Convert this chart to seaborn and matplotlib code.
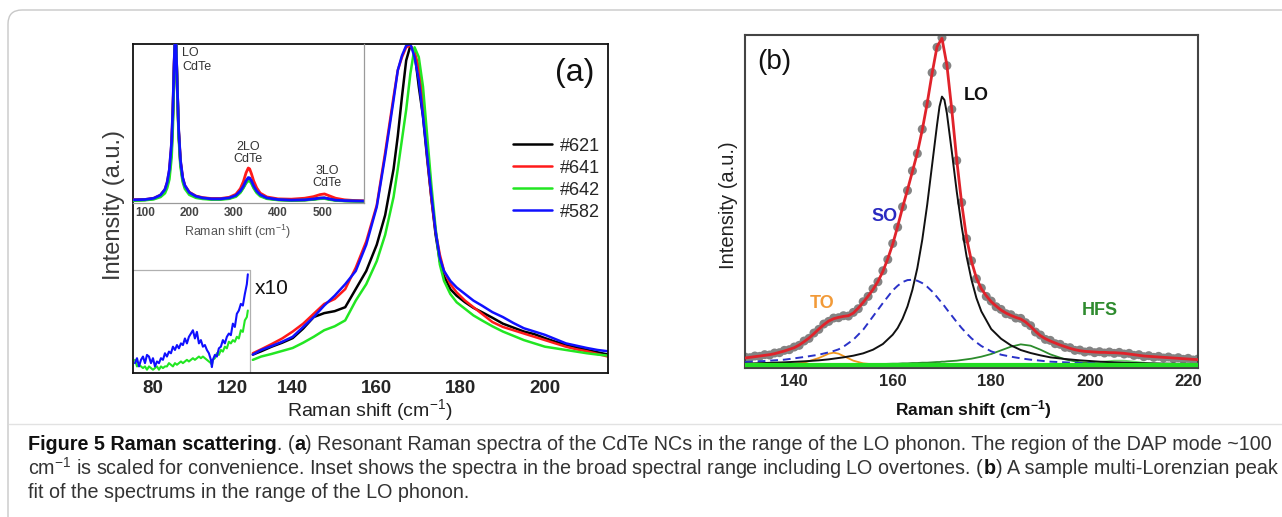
import numpy as np
import matplotlib
matplotlib.use("Agg")
import matplotlib.pyplot as plt
import seaborn as sns
from matplotlib.patches import FancyBboxPatch
from matplotlib.transforms import IdentityTransform
from matplotlib.ticker import FixedLocator, NullLocator

# ---------------- data : panel (a), main spectra ----------------
x_main = [130, 132.5, 135, 137.5, 140, 142.5, 145, 147.5, 150, 152.5, 155, 157.5, 160, 162, 164, 165,
          166, 167, 168, 169, 170, 171, 172, 173, 174, 175, 176, 177.5, 179, 181, 183, 185, 187.5,
          190, 192.5, 195, 197.5, 200, 202.5, 205, 207.5, 210, 212.5, 215]
y_621 = [0.056, 0.066, 0.080, 0.092, 0.106, 0.135, 0.170, 0.182, 0.188, 0.200, 0.255, 0.310, 0.390, 0.480,
         0.620, 0.720, 0.840, 0.950, 0.995, 0.975, 0.870, 0.780, 0.650, 0.530, 0.420, 0.340, 0.295, 0.255,
         0.235, 0.215, 0.198, 0.185, 0.168, 0.150, 0.138, 0.126, 0.118, 0.106, 0.095, 0.086, 0.078, 0.070,
         0.063, 0.056]
y_641 = [0.060, 0.072, 0.088, 0.105, 0.126, 0.150, 0.180, 0.210, 0.225, 0.255, 0.320, 0.400, 0.510, 0.670,
         0.840, 0.920, 0.960, 0.990, 0.995, 0.975, 0.930, 0.820, 0.660, 0.530, 0.430, 0.360, 0.310, 0.270,
         0.245, 0.220, 0.200, 0.180, 0.155, 0.140, 0.130, 0.120, 0.110, 0.100, 0.090, 0.080, 0.072, 0.066,
         0.058, 0.050]
y_642 = [0.040, 0.050, 0.058, 0.067, 0.076, 0.092, 0.110, 0.130, 0.142, 0.160, 0.220, 0.270, 0.340, 0.420,
         0.535, 0.620, 0.710, 0.800, 0.910, 0.990, 0.960, 0.870, 0.720, 0.570, 0.440, 0.330, 0.280, 0.240,
         0.215, 0.195, 0.175, 0.160, 0.142, 0.126, 0.113, 0.100, 0.090, 0.080, 0.075, 0.070, 0.065, 0.060,
         0.056, 0.053]
y_582 = [0.056, 0.070, 0.082, 0.095, 0.110, 0.140, 0.170, 0.205, 0.235, 0.270, 0.310, 0.390, 0.505, 0.660,
         0.830, 0.920, 0.965, 0.995, 1.000, 0.960, 0.890, 0.780, 0.660, 0.540, 0.430, 0.350, 0.310, 0.280,
         0.260, 0.240, 0.220, 0.205, 0.185, 0.170, 0.152, 0.136, 0.126, 0.116, 0.103, 0.090, 0.083, 0.076,
         0.070, 0.066]

# ---------------- data : panel (a), x10 region ----------------
x_low = [71, 72, 73, 74, 75, 76, 77, 78, 79, 80, 81, 82, 83, 84, 85, 86, 87, 88, 89, 90, 91, 92, 93, 94, 95,
         96, 97, 98, 99, 100, 101, 102, 103, 104, 105, 106, 107, 108, 109, 109.5, 110, 111, 112, 113, 114,
         115, 116, 117, 118, 119, 120, 121, 122, 123, 124, 125, 126, 127, 127.5]
low_582 = [0.030, 0.045, 0.020, 0.040, 0.050, 0.030, 0.055, 0.050, 0.030, 0.045, 0.020, 0.035, 0.030, 0.045,
           0.040, 0.060, 0.050, 0.065, 0.060, 0.080, 0.070, 0.085, 0.075, 0.090, 0.085, 0.105, 0.090, 0.110,
           0.120, 0.130, 0.105, 0.125, 0.090, 0.100, 0.080, 0.085, 0.070, 0.060, 0.040, 0.018, 0.040, 0.055,
           0.050, 0.075, 0.080, 0.100, 0.090, 0.110, 0.120, 0.115, 0.150, 0.140, 0.180, 0.190, 0.210, 0.205,
           0.240, 0.270, 0.300]
low_642 = [0.040, 0.020, 0.025, 0.020, 0.015, 0.020, 0.010, 0.020, 0.015, 0.010, 0.015, 0.020, 0.010, 0.020,
           0.015, 0.020, 0.020, 0.030, 0.025, 0.020, 0.030, 0.025, 0.030, 0.035, 0.030, 0.035, 0.040, 0.035,
           0.040, 0.045, 0.040, 0.045, 0.050, 0.045, 0.050, 0.045, 0.040, 0.035, 0.030, 0.025, 0.040, 0.045,
           0.060, 0.055, 0.070, 0.065, 0.080, 0.075, 0.095, 0.090, 0.100, 0.095, 0.110, 0.105, 0.130, 0.125,
           0.160, 0.170, 0.190]

# ---------------- data : panel (a), inset ----------------
x_in = [75, 100, 120, 135, 145, 150, 155, 160, 163, 166, 168, 170, 173, 176, 180, 185, 190, 200, 215, 230,
        250, 270, 290, 305, 315, 322, 328, 333, 336, 340, 345, 352, 360, 375, 400, 430, 460, 480, 495, 505,
        515, 530, 550, 575, 595]
in_621 = [0.018, 0.020, 0.027, 0.045, 0.075, 0.115, 0.185, 0.340, 0.560, 0.880, 1.050, 1.010, 0.715, 0.445,
          0.255, 0.150, 0.102, 0.062, 0.040, 0.030, 0.025, 0.025, 0.030, 0.045, 0.070, 0.100, 0.132, 0.150,
          0.150, 0.132, 0.102, 0.070, 0.048, 0.030, 0.021, 0.017, 0.019, 0.024, 0.030, 0.031, 0.025, 0.018,
          0.014, 0.012, 0.011]
in_641 = [0.020, 0.022, 0.030, 0.050, 0.085, 0.128, 0.205, 0.370, 0.590, 0.890, 1.040, 0.990, 0.710, 0.450,
          0.265, 0.158, 0.110, 0.068, 0.044, 0.034, 0.028, 0.028, 0.036, 0.055, 0.090, 0.135, 0.190, 0.220,
          0.215, 0.185, 0.140, 0.095, 0.062, 0.038, 0.026, 0.024, 0.030, 0.040, 0.053, 0.057, 0.046, 0.030,
          0.020, 0.015, 0.013]
in_642 = [0.015, 0.018, 0.024, 0.038, 0.062, 0.095, 0.150, 0.290, 0.500, 0.840, 1.040, 1.020, 0.700, 0.420,
          0.235, 0.135, 0.090, 0.052, 0.033, 0.026, 0.022, 0.022, 0.027, 0.040, 0.065, 0.095, 0.125, 0.140,
          0.140, 0.124, 0.094, 0.064, 0.043, 0.027, 0.019, 0.016, 0.018, 0.022, 0.027, 0.028, 0.022, 0.016,
          0.013, 0.011, 0.010]
in_582 = [0.020, 0.022, 0.030, 0.050, 0.085, 0.130, 0.210, 0.380, 0.600, 0.900, 1.050, 1.000, 0.720, 0.460,
          0.270, 0.160, 0.110, 0.066, 0.042, 0.032, 0.026, 0.026, 0.032, 0.048, 0.075, 0.105, 0.140, 0.160,
          0.158, 0.140, 0.108, 0.075, 0.052, 0.032, 0.022, 0.018, 0.020, 0.025, 0.031, 0.032, 0.026, 0.018,
          0.015, 0.013, 0.012]

samples = ["#621", "#641", "#642", "#582"]
sample_colors = ["#000000", "#ff1a1a", "#22e622", "#1010ff"]

# ---------------- data : panel (b) ----------------
x_b = list(range(130, 223))
data_b = [0.033, 0.031, 0.036, 0.035, 0.040, 0.039, 0.045, 0.046, 0.053, 0.055, 0.063, 0.068, 0.081, 0.089,
          0.105, 0.116, 0.132, 0.140, 0.150, 0.151, 0.157, 0.156, 0.167, 0.178, 0.199, 0.215, 0.238, 0.259,
          0.292, 0.326, 0.374, 0.423, 0.484, 0.533, 0.592, 0.644, 0.717, 0.793, 0.887, 0.963, 0.992, 0.908,
          0.777, 0.623, 0.497, 0.388, 0.322, 0.268, 0.240, 0.215, 0.201, 0.184, 0.176, 0.163, 0.160, 0.150,
          0.149, 0.136, 0.127, 0.108, 0.099, 0.086, 0.083, 0.073, 0.071, 0.062, 0.061, 0.053, 0.054, 0.048,
          0.051, 0.046, 0.049, 0.045, 0.048, 0.044, 0.047, 0.042, 0.044, 0.038, 0.040, 0.034, 0.037, 0.032,
          0.035, 0.030, 0.033, 0.028, 0.031, 0.026, 0.029, 0.024, 0.027]
fit_b = [0.030, 0.032, 0.034, 0.036, 0.038, 0.040, 0.043, 0.047, 0.051, 0.056, 0.061, 0.069, 0.079, 0.090,
         0.103, 0.117, 0.130, 0.141, 0.148, 0.152, 0.155, 0.157, 0.165, 0.180, 0.197, 0.216, 0.236, 0.260,
         0.290, 0.328, 0.372, 0.425, 0.482, 0.535, 0.590, 0.646, 0.715, 0.795, 0.885, 0.965, 0.990, 0.910,
         0.775, 0.625, 0.495, 0.390, 0.320, 0.270, 0.238, 0.217, 0.199, 0.186, 0.174, 0.165, 0.158, 0.152,
         0.147, 0.138, 0.125, 0.110, 0.097, 0.088, 0.081, 0.075, 0.069, 0.064, 0.059, 0.055, 0.052, 0.050,
         0.049, 0.048, 0.047, 0.047, 0.046, 0.046, 0.045, 0.044, 0.042, 0.040, 0.038, 0.036, 0.035, 0.034,
         0.033, 0.032, 0.031, 0.030, 0.029, 0.028, 0.027, 0.026, 0.025]

x_fit = [130, 134, 138, 142, 145, 147, 148, 149, 150, 152, 154, 156, 158, 160, 161, 162, 163, 164, 165, 166,
         167, 168, 169, 169.5, 170, 170.5, 171, 172, 173, 174, 175, 176, 177, 178, 180, 182, 184, 186, 188,
         190, 192, 195, 198, 202, 205, 207, 209, 212, 216, 222]
comp_LO = [0.013, 0.015, 0.017, 0.020, 0.023, 0.026, 0.028, 0.030, 0.032, 0.037, 0.044, 0.055, 0.072, 0.100,
           0.120, 0.148, 0.185, 0.235, 0.300, 0.385, 0.490, 0.610, 0.730, 0.785, 0.815, 0.805, 0.765, 0.650,
           0.530, 0.425, 0.335, 0.265, 0.210, 0.170, 0.117, 0.088, 0.068, 0.054, 0.045, 0.038, 0.032, 0.027,
           0.023, 0.019, 0.017, 0.016, 0.015, 0.014, 0.013, 0.012]
comp_SO = [0.018, 0.021, 0.025, 0.033, 0.040, 0.047, 0.051, 0.056, 0.064, 0.085, 0.115, 0.155, 0.195, 0.233,
           0.247, 0.258, 0.264, 0.265, 0.262, 0.255, 0.244, 0.230, 0.213, 0.204, 0.195, 0.186, 0.176, 0.157,
           0.138, 0.120, 0.104, 0.089, 0.077, 0.066, 0.050, 0.040, 0.034, 0.029, 0.025, 0.022, 0.019, 0.017,
           0.015, 0.013, 0.012, 0.012, 0.011, 0.011, 0.010, 0.010]
comp_TO = [0.010, 0.010, 0.011, 0.016, 0.030, 0.043, 0.046, 0.043, 0.036, 0.022, 0.014, 0.011, 0.010, 0.010,
           0.010, 0.010, 0.010, 0.010, 0.010, 0.010, 0.010, 0.010, 0.010, 0.010, 0.010, 0.010, 0.010, 0.010,
           0.010, 0.010, 0.010, 0.010, 0.010, 0.010, 0.010, 0.010, 0.010, 0.010, 0.010, 0.010, 0.010, 0.010,
           0.010, 0.010, 0.010, 0.010, 0.010, 0.010, 0.010, 0.010]
comp_HFS = [0.010, 0.010, 0.010, 0.011, 0.011, 0.011, 0.011, 0.011, 0.011, 0.012, 0.012, 0.012, 0.012, 0.013,
            0.013, 0.014, 0.014, 0.015, 0.015, 0.016, 0.016, 0.017, 0.018, 0.018, 0.019, 0.019, 0.020, 0.021,
            0.022, 0.024, 0.026, 0.028, 0.031, 0.034, 0.042, 0.053, 0.064, 0.071, 0.067, 0.055, 0.041, 0.026,
            0.017, 0.012, 0.011, 0.010, 0.010, 0.010, 0.010, 0.010]
comp_HF2 = [0.010, 0.010, 0.010, 0.010, 0.010, 0.010, 0.010, 0.010, 0.010, 0.010, 0.010, 0.010, 0.010, 0.010,
            0.010, 0.010, 0.010, 0.010, 0.010, 0.010, 0.010, 0.010, 0.010, 0.010, 0.010, 0.010, 0.010, 0.010,
            0.010, 0.010, 0.010, 0.010, 0.010, 0.010, 0.010, 0.010, 0.010, 0.010, 0.010, 0.010, 0.010, 0.011,
            0.012, 0.018, 0.022, 0.022, 0.019, 0.014, 0.011, 0.010]
x_base = [130, 222]
y_base = [0.008, 0.008]

# ---------------- style ----------------
sns.set_style("white")
plt.rcParams["font.family"] = ["Liberation Sans", "DejaVu Sans"]
plt.rcParams["mathtext.fontset"] = "custom"
plt.rcParams["mathtext.rm"] = "Liberation Sans"
plt.rcParams["mathtext.bf"] = "Liberation Sans:bold"
plt.rcParams["mathtext.it"] = "Liberation Sans:italic"

W, H = 1282, 517
fig = plt.figure(figsize=(W / 100, H / 100), dpi=100)
fig.patch.set_facecolor("white")


def fbox(l, t, r, b):
    return [l / W, 1 - b / H, (r - l) / W, (b - t) / H]


axA = fig.add_axes(fbox(133, 44, 608, 373))
axIn = fig.add_axes(fbox(133, 44, 364, 203))
axB = fig.add_axes(fbox(745, 35, 1198, 368))

# ---------------- panel (a) ----------------
main_series = [y_621, y_641, y_642, y_582]
for name, col, ys in zip(samples, sample_colors, main_series):
    sns.lineplot(x=x_main, y=ys, ax=axA, color=col, linewidth=1.8, estimator=None, sort=False,
                 label=name, legend=False)
for col, ys in [(sample_colors[2], low_642), (sample_colors[3], low_582)]:
    sns.lineplot(x=x_low, y=ys, ax=axA, color=col, linewidth=1.5, estimator=None, sort=False, legend=False)

XB, RB = 131.0, 0.475


def fwd(x):
    x = np.asarray(x, dtype=float)
    return np.where(x < XB, XB - (XB - x) * RB, x)


def inv(y):
    y = np.asarray(y, dtype=float)
    return np.where(y < XB, XB - (XB - y) / RB, y)


axA.set_xscale("function", functions=(fwd, inv))
axA.set_xlim(70, 215)
axA.set_ylim(0, 1.0)
axA.xaxis.set_major_locator(FixedLocator([80, 120, 140, 160, 180, 200]))
axA.xaxis.set_minor_locator(FixedLocator([72, 88, 96, 104, 112, 128, 132, 136, 144, 148, 152, 156, 164, 168,
                                          172, 176, 184, 188, 192, 196, 204, 208, 212]))
axA.yaxis.set_major_locator(NullLocator())
axA.set_xlabel("")
axA.set_ylabel("")
axA.tick_params(axis="x", which="major", direction="in", length=6, width=1.2, pad=5, labelsize=13.5)
axA.tick_params(axis="x", which="minor", direction="in", length=3.5, width=1.0)
for lab in axA.get_xticklabels():
    lab.set_fontweight("bold")
for sp in axA.spines.values():
    sp.set_color("#111111")
    sp.set_linewidth(1.3)

# x10 box
axA.plot([70, 128.4, 128.4], [0.313, 0.313, 0.0], color="#b0b0b0", linewidth=0.9)
axA.text(0.257, 0.258, "x10", transform=axA.transAxes, fontsize=15, ha="left", va="center", color="#111111")
axA.text(0.93, 0.912, "(a)", transform=axA.transAxes, fontsize=23, ha="center", va="center", color="#111111")

handles = axA.get_lines()[:4]
axA.legend(handles, samples, loc="upper left", bbox_to_anchor=(0.765, 0.765), frameon=False, fontsize=13,
           handlelength=2.2, handletextpad=0.4, labelspacing=0.28, borderpad=0.4)

# ---------------- inset ----------------
axIn.set_facecolor("none")
for name, col, ys in zip(samples, sample_colors, [in_621, in_641, in_642, in_582]):
    sns.lineplot(x=x_in, y=ys, ax=axIn, color=col, linewidth=2.0, estimator=None, sort=False, legend=False)
axIn.set_xlim(73, 594)
axIn.set_ylim(0, 1.0)
axIn.set_xlabel("")
axIn.set_ylabel("")
axIn.xaxis.set_major_locator(FixedLocator([100, 200, 300, 400, 500]))
axIn.xaxis.set_minor_locator(FixedLocator([150, 250, 350, 450, 550]))
axIn.yaxis.set_major_locator(NullLocator())
axIn.tick_params(axis="x", which="major", direction="in", length=3, width=0.8, pad=3, labelsize=8.5,
                 colors="#444444")
axIn.tick_params(axis="x", which="minor", direction="in", length=2, width=0.6, colors="#777777")
for lab in axIn.get_xticklabels():
    lab.set_fontweight("bold")
axIn.spines["left"].set_visible(False)
axIn.spines["top"].set_visible(False)
axIn.spines["right"].set_color("#9a9a9a")
axIn.spines["bottom"].set_color("#9a9a9a")
axIn.spines["right"].set_linewidth(0.9)
axIn.spines["bottom"].set_linewidth(0.9)
fig.text(237 / W, 1 - 232 / H, r"Raman shift (cm$^{-1}$)", fontsize=9, ha="center", va="center", color="#555555")
fig.text(182 / W, 1 - 60 / H, "LO\nCdTe", fontsize=9, ha="left", va="center", color="#333333",
         linespacing=1.15)
fig.text(248 / W, 1 - 153 / H, "2LO\nCdTe", fontsize=9, ha="center", va="center", color="#333333",
         linespacing=1.1)
fig.text(327 / W, 1 - 177 / H, "3LO\nCdTe", fontsize=9, ha="center", va="center", color="#333333",
         linespacing=1.1)

fig.text(114 / W, 1 - 205 / H, "Intensity (a.u.)", fontsize=17, rotation=90, ha="center", va="center",
         color="#3a3a3a")
fig.text(370 / W, 1 - 410 / H, r"Raman shift (cm$^{-1}$)", fontsize=14, ha="center", va="center",
         color="#222222")

# ---------------- panel (b) ----------------
sns.scatterplot(x=x_b, y=data_b, ax=axB, color="#838383", s=42, edgecolor="none", linewidth=0, zorder=2,
                legend=False)
sns.lineplot(x=x_fit, y=comp_TO, ax=axB, color="#f0961e", linewidth=1.3, estimator=None, sort=False,
             legend=False, zorder=3)
sns.lineplot(x=x_fit, y=comp_HF2, ax=axB, color="#6fd86f", linewidth=1.3, estimator=None, sort=False,
             legend=False, zorder=3)
sns.lineplot(x=x_fit, y=comp_HFS, ax=axB, color="#2c8c2c", linewidth=1.3, estimator=None, sort=False,
             legend=False, zorder=3)
sns.lineplot(x=x_fit, y=comp_SO, ax=axB, color="#2a32c8", linewidth=1.4, linestyle=(0, (4, 2.5)),
             estimator=None, sort=False, legend=False, zorder=3)
sns.lineplot(x=x_fit, y=comp_LO, ax=axB, color="#111111", linewidth=1.4, estimator=None, sort=False,
             legend=False, zorder=3)
sns.lineplot(x=x_base, y=y_base, ax=axB, color="#22dd22", linewidth=3.0, estimator=None, sort=False,
             legend=False, zorder=3.5)
sns.lineplot(x=x_b, y=fit_b, ax=axB, color="#e0232b", linewidth=2.0, estimator=None, sort=False,
             legend=False, zorder=4)
axB.set_xlim(130, 222)
axB.set_ylim(0, 1.0)
axB.set_xlabel("")
axB.set_ylabel("")
axB.xaxis.set_major_locator(FixedLocator([140, 160, 180, 200, 220]))
axB.xaxis.set_minor_locator(FixedLocator([132, 136, 144, 148, 152, 156, 164, 168, 172, 176, 184, 188, 192,
                                          196, 204, 208, 212, 216]))
axB.yaxis.set_major_locator(NullLocator())
axB.tick_params(axis="x", which="major", direction="in", length=6, width=1.2, pad=4, labelsize=12)
axB.tick_params(axis="x", which="minor", direction="in", length=3.5, width=1.0)
for lab in axB.get_xticklabels():
    lab.set_fontweight("bold")
for sp in axB.spines.values():
    sp.set_color("#444444")
    sp.set_linewidth(1.5)

axB.text(0.026, 0.919, "(b)", transform=axB.transAxes, fontsize=20, ha="left", va="center", color="#111111")
axB.text(0.51, 0.817, "LO", transform=axB.transAxes, fontsize=13, fontweight="bold", ha="center",
         va="center", color="#111111")
axB.text(0.307, 0.456, "SO", transform=axB.transAxes, fontsize=13, fontweight="bold", ha="center",
         va="center", color="#2a2ac0")
axB.text(0.17, 0.195, "TO", transform=axB.transAxes, fontsize=13, fontweight="bold", ha="center",
         va="center", color="#f29a38")
axB.text(0.784, 0.174, "HFS", transform=axB.transAxes, fontsize=13, fontweight="bold", ha="center",
         va="center", color="#2e8b2e")

fig.text(728 / W, 1 - 205 / H, "Intensity (a.u.)", fontsize=14.5, rotation=90, ha="center", va="center",
         color="#222222")
fig.text(973 / W, 1 - 410 / H, r"Raman shift (cm$^{\mathbf{-1}}$)", fontsize=12.5, fontweight="bold",
         ha="center", va="center", color="#111111")

# ---------------- border, separator, caption ----------------
border = FancyBboxPatch((8, -60), 1500, H - 10 + 60, boxstyle="round,pad=0,rounding_size=14",
                        transform=IdentityTransform(), fill=False, edgecolor="#c8c8c8", linewidth=1.0)
fig.patches.append(border)
fig.add_artist(plt.Line2D([9 / W, 1.0], [1 - 424 / H, 1 - 424 / H], transform=fig.transFigure,
                          color="#e2e2e2", linewidth=1.0))

cap_family = ["Liberation Sans Narrow", "Liberation Sans", "DejaVu Sans"]
cap_lines = [
    (445, [("Figure 5 Raman scattering", "bold"), (". (", "normal"), ("a", "bold"),
           (") Resonant Raman spectra of the CdTe NCs in the range of the LO phonon. The region of the DAP mode ~100",
            "normal")]),
    (468, [(r"cm$^{-1}$ is scaled for convenience. Inset shows the spectra in the broad spectral range including LO overtones. (",
            "normal"), ("b", "bold"), (") A sample multi-Lorenzian peak", "normal")]),
    (492, [("fit of the spectrums in the range of the LO phonon.", "normal")]),
]

renderer = fig.canvas.get_renderer()


def place_line(pieces, y_px, size, x0=28):
    x = x0
    made = []
    for s, w in pieces:
        t = fig.text(x / W, 1 - y_px / H, s, fontsize=size, fontweight=w, family=cap_family, ha="left",
                     va="center", color="#111111" if w == "bold" else "#333333")
        made.append(t)
        x += t.get_window_extent(renderer=renderer).width
    return made, x - x0


# fit caption size so that the first line spans the same width as in the reference
trial, width = place_line(cap_lines[0][1], cap_lines[0][0], 12)
for t in trial:
    t.remove()
size = 12 * 1240 / width
for y_px, pieces in cap_lines:
    place_line(pieces, y_px, size)

fig.savefig("out.png", dpi=100, facecolor="white")
